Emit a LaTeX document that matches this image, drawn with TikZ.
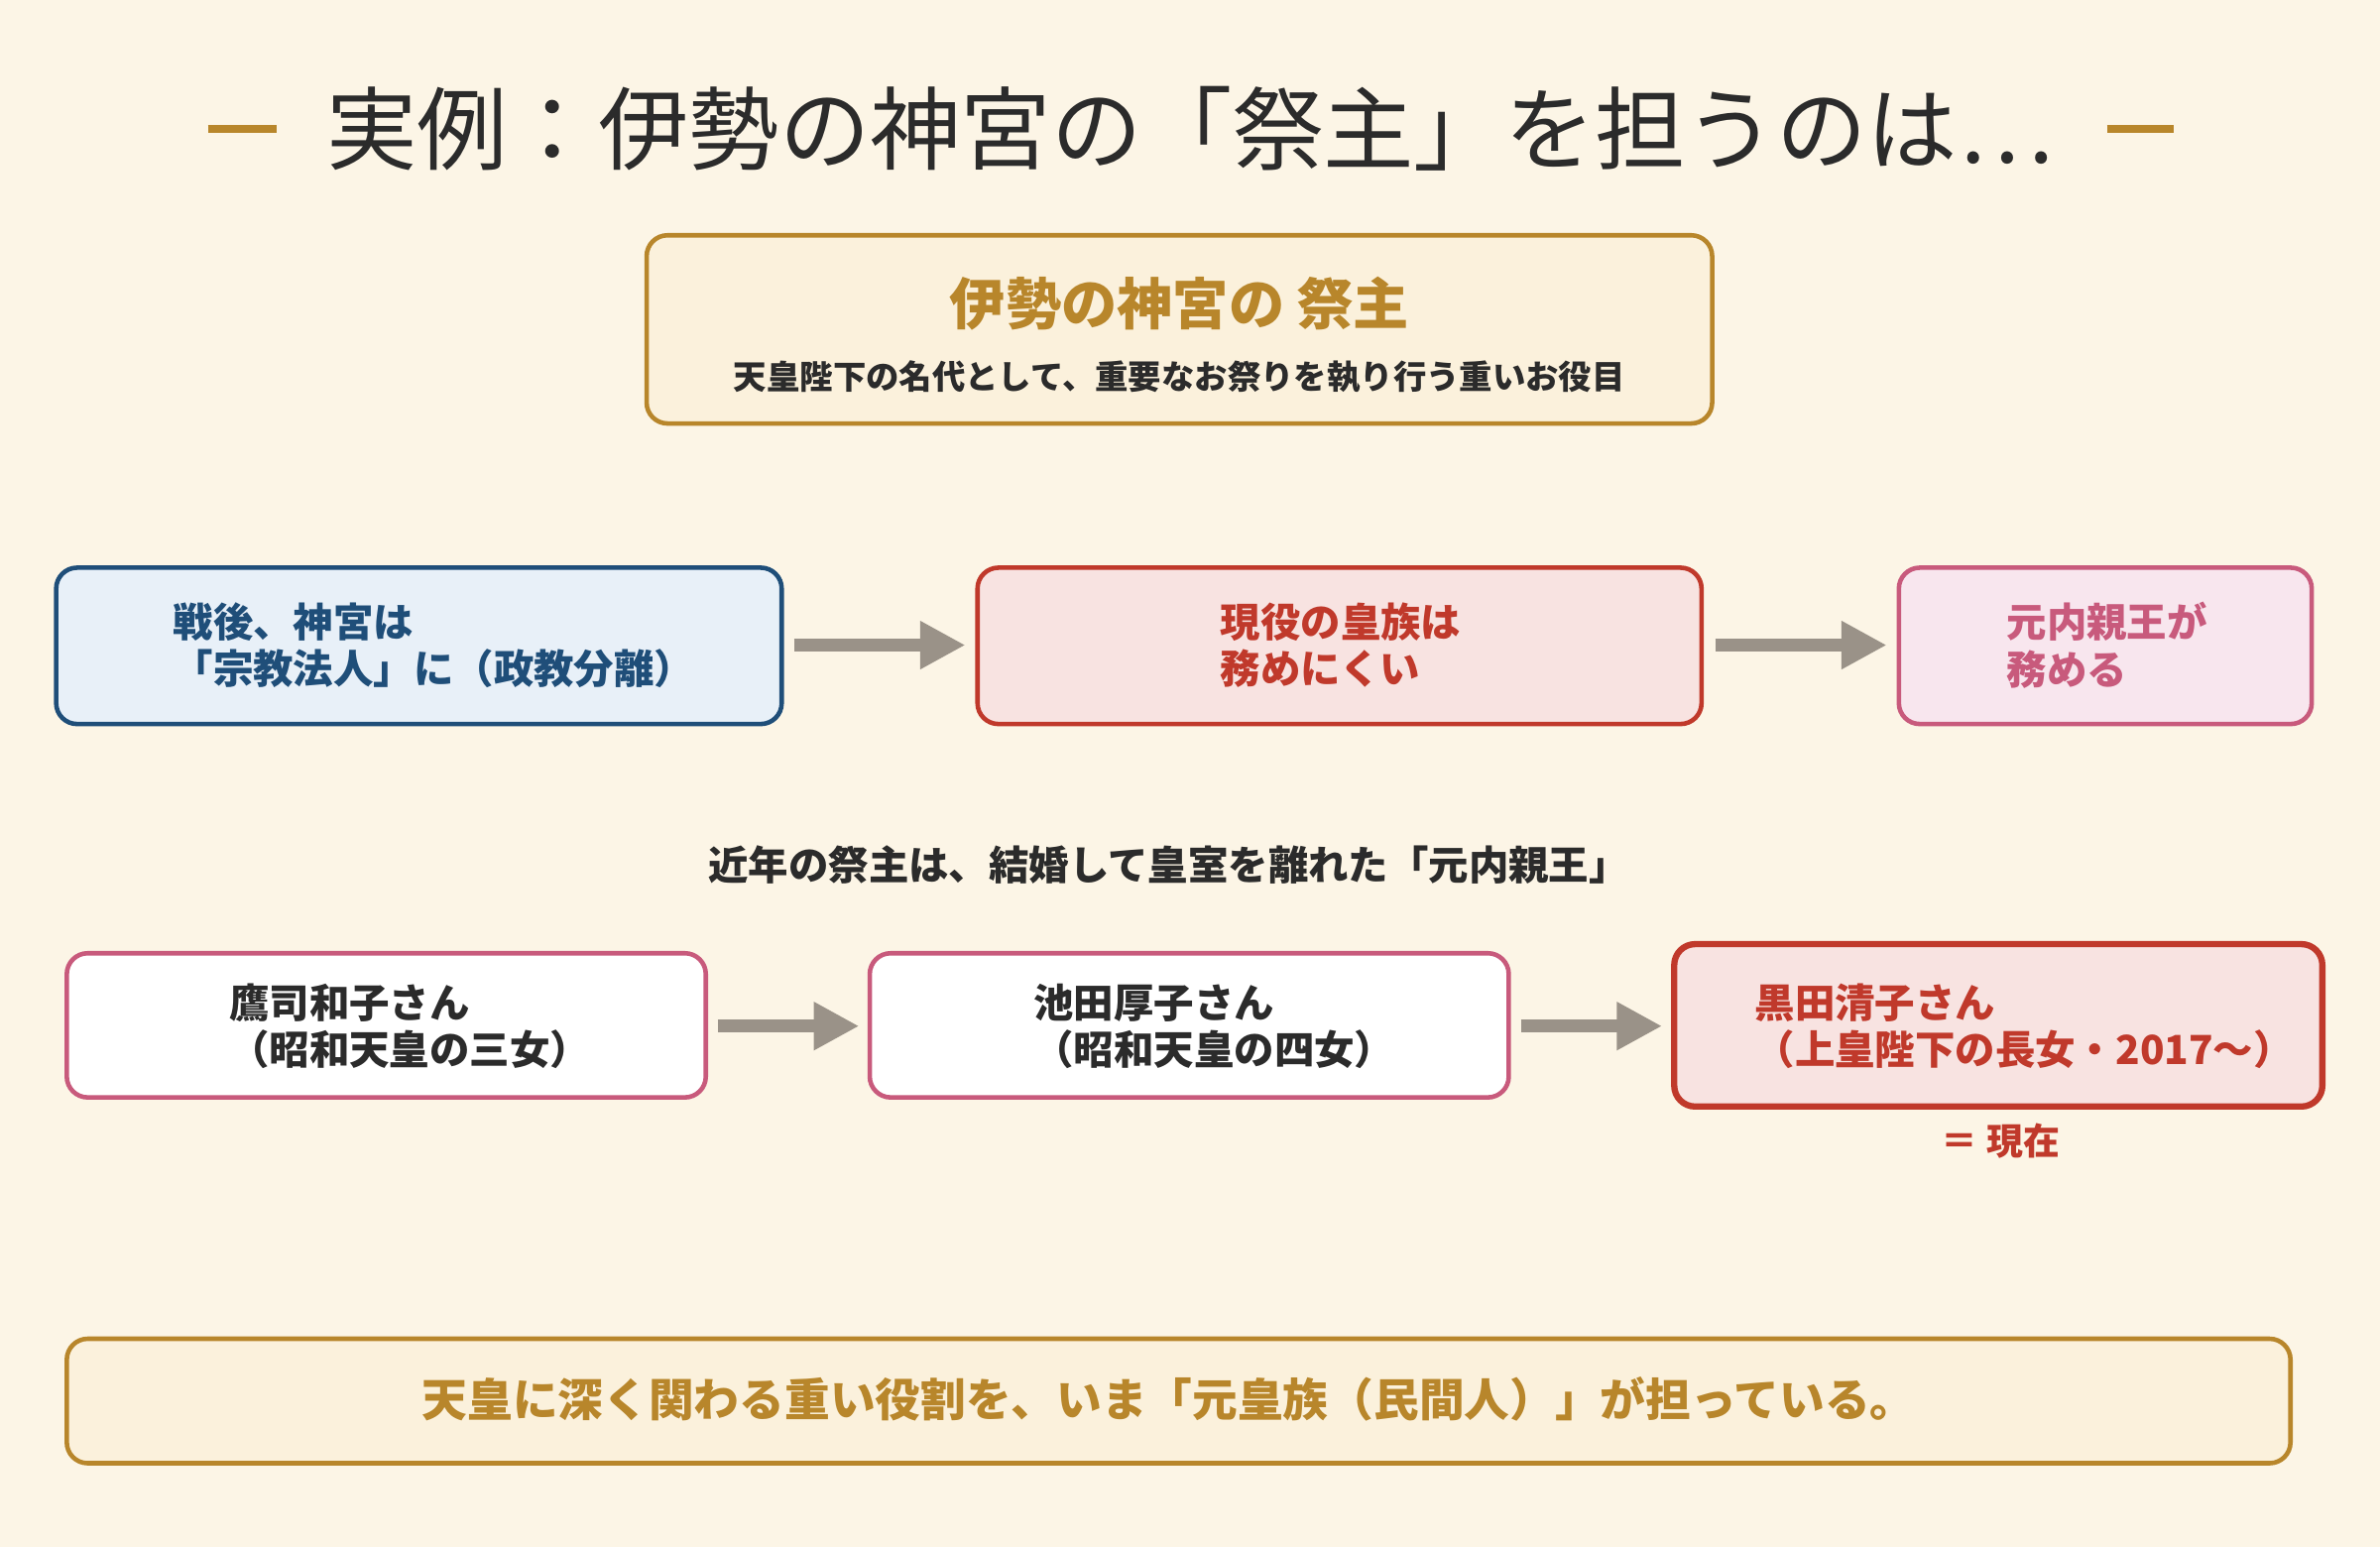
\documentclass[tikz,border=0pt]{standalone}
\usepackage{fontspec}
\setmainfont{Noto Sans CJK JP}
\newfontfamily\jpb{Noto Sans CJK JP}[BoldFont={* Bold}]
\usetikzlibrary{arrows.meta}
\definecolor{bg}{HTML}{FCF5E6}
\definecolor{gold}{HTML}{B8862B}
\definecolor{goldfill}{HTML}{FBF1DC}
\definecolor{navy}{HTML}{1F4E79}
\definecolor{navyfill}{HTML}{E8F0F8}
\definecolor{red1}{HTML}{C0392B}
\definecolor{redfill}{HTML}{F8E3E1}
\definecolor{pink1}{HTML}{C85A7C}
\definecolor{pinkfill}{HTML}{F8E6EE}
\definecolor{dark}{HTML}{2B2B2B}
\definecolor{arr}{HTML}{9A9288}
\begin{document}
\begin{tikzpicture}[x=0.01531cm,y=-0.01531cm,
  box/.style={draw,rounded corners=6pt,line width=1.3pt},
  txt/.style={font=\bfseries\fontsize{11.5}{13.5}\selectfont,align=left,anchor=west},
  ar/.style={arr,line width=3.6pt,-{Triangle[length=13pt,width=13pt]}}]
\fill[bg] (0,0) rectangle (1568,1019);
\useasboundingbox (0,0) rectangle (1568,1019);
% title
\node[font=\fontsize{26}{30}\selectfont,text=dark] (title) at (784,85) {実例：伊勢の神宮の「祭主」を担うのは…};
\coordinate (d1a) at (137,85); \coordinate (d1b) at (182,85);
\coordinate (d2a) at (1388,85); \coordinate (d2b) at (1432,85);
\draw[gold,line width=2.2pt] (d1a)--(d1b) (d2a)--(d2b);
% top box
\draw[box,gold,fill=goldfill] (426,155) rectangle (1128,279);
\node[font=\bfseries\fontsize{16}{18}\selectfont,text=gold] (tt) at (777,200) {伊勢の神宮の 祭主};
\node[font=\bfseries\fontsize{9.5}{11}\selectfont,text=dark] (ts) at (777,248) {天皇陛下の名代として、重要なお祭りを執り行う重いお役目};
% row1
\draw[box,navy,fill=navyfill] (37,374) rectangle (515,477);
\node[txt,text=navy] (b1) at (106,425) {戦後、神宮は\\「宗教法人」に（政教分離）};
\draw[box,red1,fill=redfill] (644,374) rectangle (1121,477);
\node[txt,text=red1] (b2) at (796,425) {現役の皇族は\\務めにくい};
\draw[box,pink1,fill=pinkfill] (1251,374) rectangle (1523,477);
\node[txt,text=pink1] (b3) at (1314,425) {元内親王が\\務める};
\coordinate (a1s) at (523,425); \coordinate (a1e) at (636,425);
\coordinate (a2s) at (1130,425); \coordinate (a2e) at (1243,425);
\draw[ar] (a1s)--(a1e);
\draw[ar] (a2s)--(a2e);
% caption
\node[font=\bfseries\fontsize{11.5}{13}\selectfont,text=dark] (cap) at (770,570) {近年の祭主は、結婚して皇室を離れた「元内親王」};
% row2
\draw[box,pink1,fill=white] (44,628) rectangle (465,723);
\node[txt,text=dark] (c1) at (143,676) {鷹司和子さん\\（昭和天皇の三女）};
\draw[box,pink1,fill=white] (573,628) rectangle (994,723);
\node[txt,text=dark] (c2) at (673,676) {池田厚子さん\\（昭和天皇の四女）};
\draw[box,red1,fill=redfill,line width=1.8pt] (1103,622) rectangle (1530,729);
\node[txt,text=red1] (c3) at (1148,676) {黒田清子さん\\（上皇陛下の長女・2017〜）};
\coordinate (a3s) at (473,676); \coordinate (a3e) at (566,676);
\coordinate (a4s) at (1002,676); \coordinate (a4e) at (1095,676);
\draw[ar] (a3s)--(a3e);
\draw[ar] (a4s)--(a4e);
\node[font=\bfseries\fontsize{10.5}{12}\selectfont,text=red1] (now) at (1318,752) {＝ 現在};
% bottom
\draw[box,gold,fill=goldfill] (44,882) rectangle (1509,964);
\node[font=\bfseries\fontsize{13}{15}\selectfont,text=gold] (bt) at (770,922) {天皇に深く関わる重い役割を、いま「元皇族（民間人）」が担っている。};
\end{tikzpicture}
\end{document}
